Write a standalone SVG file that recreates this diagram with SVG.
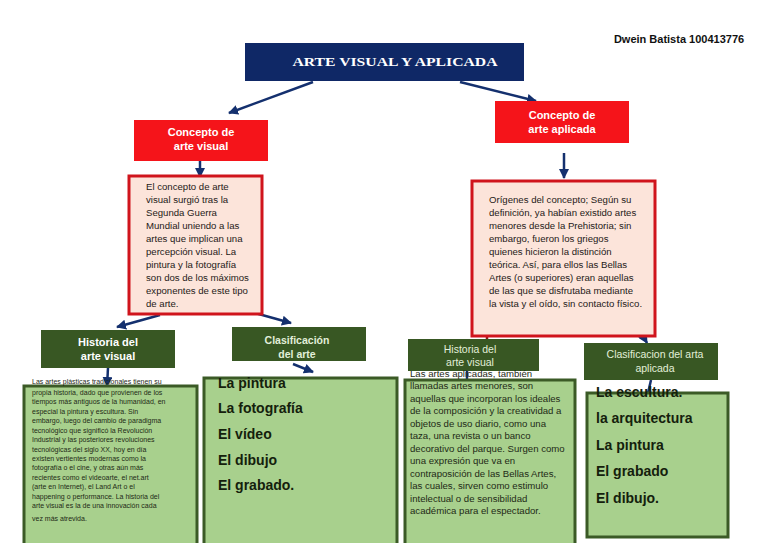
<svg xmlns="http://www.w3.org/2000/svg" width="768" height="543" viewBox="0 0 768 543">
<defs>
<style>
.bg{fill:#ffffff}
.title{fill:#0f2866}
.red{fill:#f5141a}
.pink{fill:#fce4da;stroke:#d0141c;stroke-width:3}
.hdr{fill:#385723}
.gbox{fill:#a8d08d;stroke:#3b5a26;stroke-width:3}
.conn{stroke:#14306e;stroke-width:2.5;fill:none}
.w{font-family:"Liberation Sans",Arial,sans-serif;fill:#ffffff;font-weight:bold;font-size:11px;text-anchor:middle}
.lg{font-family:"Liberation Sans",Arial,sans-serif;fill:#e2efd9;font-size:10.5px;text-anchor:middle}
.p{font-family:"Liberation Sans",Arial,sans-serif;fill:#1e1a18;font-size:9.6px}
.s{font-family:"Liberation Sans",Arial,sans-serif;fill:#1e2a16;font-size:7px}
.m{font-family:"Liberation Sans",Arial,sans-serif;fill:#1e2a16;font-size:9.6px}
.big{font-family:"Liberation Sans",Arial,sans-serif;fill:#14200c;font-weight:bold;font-size:14px}
</style>
<marker id="ah" viewBox="0 0 10 10" refX="9" refY="5" markerWidth="4" markerHeight="4" orient="auto" markerUnits="strokeWidth">
<path d="M0,0 L10,5 L0,10 z" fill="#14306e"/>
</marker>
</defs>
<rect class="bg" x="0" y="0" width="768" height="543"/>

<text x="679" y="43" style="font-family:'Liberation Sans',Arial,sans-serif;font-weight:bold;font-size:11px;fill:#111;text-anchor:middle">Dwein Batista 100413776</text>

<g id="connectors">
<line class="conn" x1="313" y1="82" x2="229" y2="113" marker-end="url(#ah)"/>
<line class="conn" x1="460" y1="82" x2="536" y2="101" marker-end="url(#ah)"/>
<line class="conn" x1="200" y1="161" x2="200" y2="177" marker-end="url(#ah)"/>
<line class="conn" x1="564" y1="153" x2="564" y2="178" marker-end="url(#ah)"/>
<line class="conn" x1="160" y1="315" x2="117" y2="327" marker-end="url(#ah)"/>
<line class="conn" x1="255" y1="313" x2="291" y2="323" marker-end="url(#ah)"/>
<line class="conn" x1="293" y1="364" x2="313" y2="372" marker-end="url(#ah)"/>
<line class="conn" x1="108" y1="368" x2="107" y2="386" marker-end="url(#ah)"/>
<line x1="487" y1="336" x2="487" y2="340" stroke="#8a1a1a" stroke-width="2.5"/>
<line class="conn" x1="467" y1="371" x2="467" y2="385"/>
<line class="conn" x1="643" y1="336" x2="647" y2="343" marker-end="url(#ah)"/>
<line class="conn" x1="651" y1="380" x2="648" y2="393"/>
</g>

<g id="title">
<rect class="title" x="245" y="43" width="279" height="38"/>
<text x="395" y="66" textLength="205" lengthAdjust="spacingAndGlyphs" style="font-family:'Liberation Serif',serif;font-weight:bold;font-size:13.5px;fill:#fff;text-anchor:middle">ARTE VISUAL Y APLICADA</text>
</g>

<g id="concepto-visual">
<rect class="red" x="134" y="120" width="134" height="41"/>
<text class="w" x="201" y="136">Concepto de</text>
<text class="w" x="201" y="150">arte visual</text>
</g>

<g id="concepto-aplicada">
<rect class="red" x="495" y="101" width="134" height="42"/>
<text class="w" x="562" y="119">Concepto de</text>
<text class="w" x="562" y="133">arte aplicada</text>
</g>

<g id="def-visual">
<rect class="pink" x="129" y="176" width="133" height="138"/>
<text class="p" x="146" y="190">El concepto de arte</text>
<text class="p" x="146" y="203">visual surgió tras la</text>
<text class="p" x="146" y="216">Segunda Guerra</text>
<text class="p" x="146" y="229">Mundial uniendo a las</text>
<text class="p" x="146" y="242">artes que implican una</text>
<text class="p" x="146" y="255">percepción visual. La</text>
<text class="p" x="146" y="268">pintura y la fotografía</text>
<text class="p" x="146" y="281">son dos de los máximos</text>
<text class="p" x="146" y="294">exponentes de este tipo</text>
<text class="p" x="146" y="307">de arte.</text>
</g>

<g id="def-aplicada">
<rect class="pink" x="472" y="181" width="183" height="155"/>
<text class="p" x="489" y="203">Orígenes del concepto; Según su</text>
<text class="p" x="489" y="216">definición, ya habían existido artes</text>
<text class="p" x="489" y="229">menores desde la Prehistoria; sin</text>
<text class="p" x="489" y="242">embargo, fueron los griegos</text>
<text class="p" x="489" y="255">quienes hicieron la distinción</text>
<text class="p" x="489" y="268">teórica. Así, para ellos las Bellas</text>
<text class="p" x="489" y="281">Artes (o superiores) eran aquellas</text>
<text class="p" x="489" y="294">de las que se disfrutaba mediante</text>
<text class="p" x="489" y="307">la vista y el oído, sin contacto físico.</text>
</g>

<g id="historia-visual">
<rect class="hdr" x="41" y="330" width="134" height="38"/>
<text class="w" x="108" y="346">Historia del</text>
<text class="w" x="108" y="360">arte visual</text>
</g>

<g id="historia-visual-texto">
<rect class="gbox" x="24" y="386" width="173" height="160"/>
<text class="s" x="32" y="384">Las artes plásticas tradicionales tienen su</text>
<text class="s" x="32" y="395">propia historia, dado que provienen de los</text>
<text class="s" x="32" y="404">tiempos más antiguos de la humanidad, en</text>
<text class="s" x="32" y="413.5">especial la pintura y escultura. Sin</text>
<text class="s" x="32" y="423">embargo, luego del cambio de paradigma</text>
<text class="s" x="32" y="432.5">tecnológico que significó la Revolución</text>
<text class="s" x="32" y="442">Industrial y las posteriores revoluciones</text>
<text class="s" x="32" y="451.5">tecnológicas del siglo XX, hoy en día</text>
<text class="s" x="32" y="461">existen vertientes modernas como la</text>
<text class="s" x="32" y="470">fotografía o el cine, y otras aún más</text>
<text class="s" x="32" y="479.5">recientes como el videoarte, el net.art</text>
<text class="s" x="32" y="489">(arte en Internet), el Land Art o el</text>
<text class="s" x="32" y="498.5">happening o performance. La historia del</text>
<text class="s" x="32" y="508">arte visual es la de una innovación cada</text>
<text class="s" x="32" y="521">vez más atrevida.</text>
</g>

<g id="clasificacion-arte">
<rect class="hdr" x="232" y="327" width="134" height="34"/>
<text class="lg" x="297" y="344" style="font-weight:bold">Clasificación</text>
<text class="lg" x="297" y="358" style="font-weight:bold">del arte</text>
</g>

<g id="clasificacion-arte-lista">
<rect class="gbox" x="204" y="378" width="193" height="168"/>
<text class="big" x="218" y="388">La pintura</text>
<text class="big" x="218" y="413">La fotografía</text>
<text class="big" x="218" y="439">El vídeo</text>
<text class="big" x="218" y="465">El dibujo</text>
<text class="big" x="218" y="490">El grabado.</text>
</g>

<g id="historia-aplicada">
<rect class="hdr" x="408" y="339" width="131" height="32"/>
<text class="lg" x="470" y="352.5">Historia del</text>
<text class="lg" x="470" y="365.5">arte visual</text>
</g>

<g id="historia-aplicada-texto">
<rect class="gbox" x="405" y="380" width="170" height="166"/>
<text class="m" x="410" y="377">Las artes aplicadas, también</text>
<text class="m" x="410" y="389">llamadas artes menores, son</text>
<text class="m" x="410" y="401.5">aquellas que incorporan los ideales</text>
<text class="m" x="410" y="414">de la composición y la creatividad a</text>
<text class="m" x="410" y="426.5">objetos de uso diario, como una</text>
<text class="m" x="410" y="439">taza, una revista o un banco</text>
<text class="m" x="410" y="451.5">decorativo del parque. Surgen como</text>
<text class="m" x="410" y="464">una expresión que va en</text>
<text class="m" x="410" y="476.5">contraposición de las Bellas Artes,</text>
<text class="m" x="410" y="489">las cuales, sirven como estimulo</text>
<text class="m" x="410" y="501.5">intelectual o de sensibilidad</text>
<text class="m" x="410" y="514">académica para el espectador.</text>
</g>

<g id="clasificacion-aplicada">
<rect class="hdr" x="584" y="343" width="134" height="37"/>
<text class="lg" x="655" y="358">Clasificacion del arta</text>
<text class="lg" x="655" y="372">aplicada</text>
</g>

<g id="clasificacion-aplicada-lista">
<rect class="gbox" x="587" y="393" width="141" height="144"/>
<text class="big" x="596" y="397">La escultura.</text>
<text class="big" x="596" y="423">la arquitectura</text>
<text class="big" x="596" y="450">La pintura</text>
<text class="big" x="596" y="476">El grabado</text>
<text class="big" x="596" y="503">El dibujo.</text>
</g>
</svg>
